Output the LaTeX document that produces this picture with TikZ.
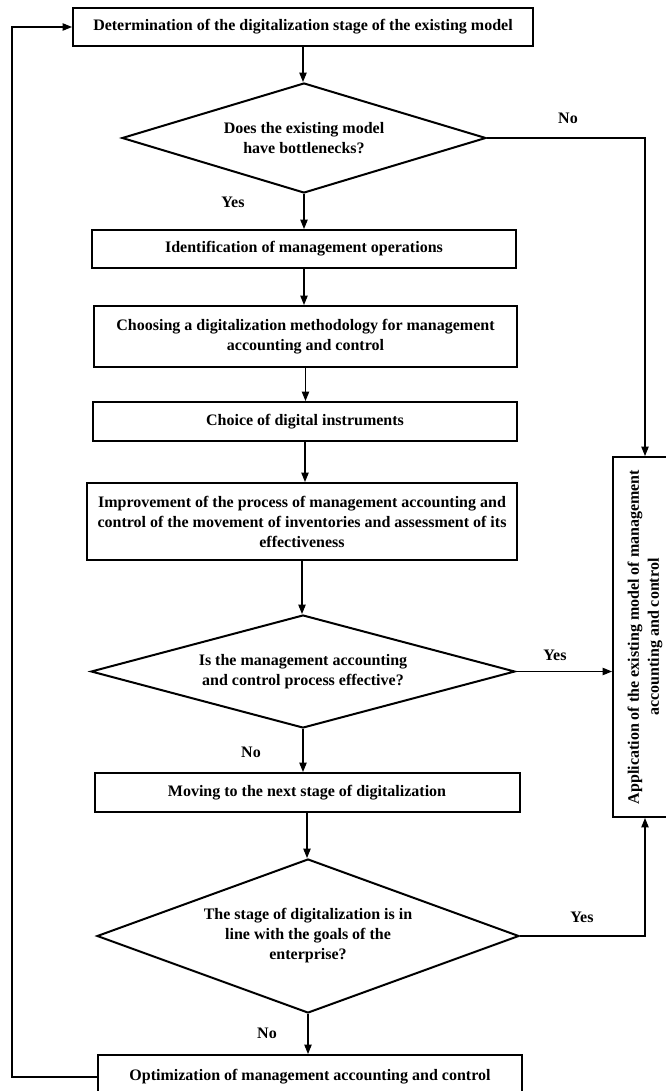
\documentclass[tikz,border=0pt]{standalone}
\usepackage{fontspec}
\setmainfont{Liberation Serif}
\usepackage{tikz}
\usetikzlibrary{arrows.meta,shapes.geometric,positioning,calc}
\tikzset{
	% Node styles ----------------------------------------------
	box/.style={draw,line width=1.5pt,rectangle,align=center,inner sep=2pt,font=\bfseries\fontsize{12}{15}\selectfont},
	decision/.style={draw,line width=1.5pt,diamond,aspect=3,inner sep=0pt,align=center,font=\bfseries\fontsize{12}{15}\selectfont},
	lbl/.style={font=\bfseries\fontsize{12}{15}\selectfont},
	% Connector styles -----------------------------------------
	flow/.style={line width=.8pt,-{Triangle[length=7pt,width=5.5pt]}},
}
\begin{document}
\begin{tikzpicture}[x=.75pt,y=-.75pt]
	\useasboundingbox (0,0) rectangle (666,1091);
	\node [box,minimum width=345pt,minimum height=28.5pt] (det) at (303,27) {Determination of the digitalization stage of the existing model};
	\node [decision,minimum width=273pt,minimum height=82.5pt] (q1) at (304,138) {Does the existing model\\have bottlenecks?};
	\node [box,minimum width=318pt,minimum height=28.5pt] (ident) at (304,249) {Identification of management operations};
	\node [box,minimum width=317pt,minimum height=45.75pt] (choose) at (305.5,336.5) {Choosing a digitalization methodology for management\\accounting and control};
	\node [box,minimum width=318pt,minimum height=29.25pt] (instr) at (305,421.5) {Choice of digital instruments};
	\node [box,minimum width=322.5pt,minimum height=57.75pt] (improve) at (302,521.5) {Improvement of the process of management accounting and\\control of the movement of inventories and assessment of its\\effectiveness};
	\node [decision,minimum width=318pt,minimum height=84.75pt] (q2) at (303,671.5) {Is the management accounting\\and control process effective?};
	\node [box,minimum width=318.75pt,minimum height=29.25pt] (nextstage) at (307,792.5) {Moving to the next stage of digitalization};
	\node [decision,minimum width=316.5pt,minimum height=115.5pt] (q3) at (308,936) {The stage of digitalization is in\\line with the goals of the\\enterprise?};
	\node [box,minimum width=318pt,minimum height=33pt] (optim) at (310,1077) {Optimization of management accounting and control};
	\node [box,rotate=90,minimum width=270pt,minimum height=48pt] (app) at (645,637) {Application of the existing model of management\\accounting and control};
	\coordinate (loop) at (12,0);

	% main line
	\draw [flow] (det.south) -- (det.south |- q1.north);
	\draw [flow] (q1.south) -- (q1.south |- ident.north);
	\draw [flow] (ident.south) -- (ident.south |- choose.north);
	\draw [flow] (choose.south) -- (choose.south |- instr.north);
	\draw [flow] (instr.south) -- (instr.south |- improve.north);
	\draw [flow] (improve.south) -- (improve.south |- q2.north);
	\draw [flow] (q2.south) -- (q2.south |- nextstage.north);
	\draw [flow] (nextstage.south) -- (nextstage.south |- q3.north);
	\draw [flow] (q3.south) -- (q3.south |- optim.north);

	% branches to the right
	\draw [flow] (q1.east) -| (app.east);
	\draw [flow] (q2.east) -- (q2.east -| app.north);
	\draw [flow] (q3.east) -| (app.west);

	% feedback
	\draw [flow] (optim.west) -- (optim.west -| loop) |- (det.west);

	\node [lbl] (no1) at (568,118) {No};
	\node [lbl] (yes1) at (233,202) {Yes};
	\node [lbl] (yes2) at (555,655) {Yes};
	\node [lbl] (no2) at (251,752) {No};
	\node [lbl] (yes3) at (582,917) {Yes};
	\node [lbl] (no3) at (267,1033) {No};
\end{tikzpicture}
\end{document}
